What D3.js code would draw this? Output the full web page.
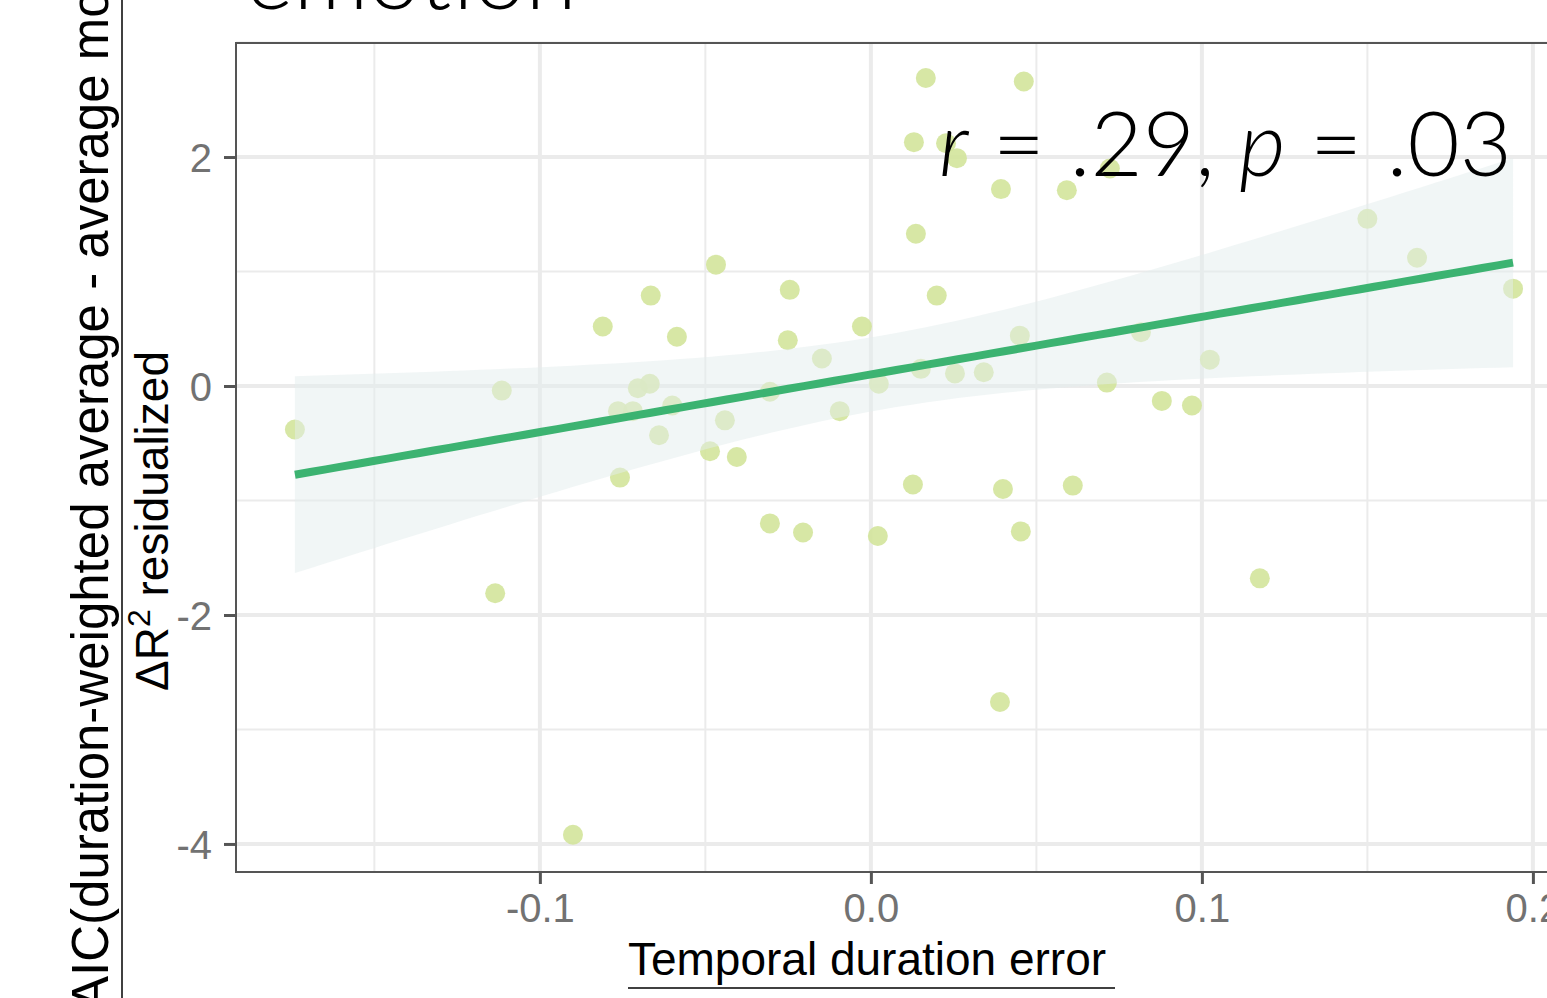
<!DOCTYPE html>
<html>
<head>
<meta charset="utf-8">
<script src="https://cdn.jsdelivr.net/npm/d3@7"></script>
<style>
  body { margin: 0; background: #fff; }
  svg { display: block; }
</style>
</head>
<body>
<svg id="chart"></svg>
<script>
// values
const durationError = [
  -0.174, -0.1135, -0.1115, -0.090, -0.081, -0.0764, -0.0758, -0.0719, -0.0704, -0.0668,
  -0.0665, -0.064, -0.060, -0.0586, -0.0486, -0.0468, -0.0441, -0.0405, -0.0305, -0.0305,
  -0.0251, -0.0245, -0.0205, -0.0148, -0.0094, -0.0027, 0.0021, 0.0024, 0.0127, 0.0130,
  0.0136, 0.0151, 0.0166, 0.0199, 0.0227, 0.0260, 0.0254, 0.0341, 0.0393, 0.0390,
  0.0399, 0.0450, 0.0453, 0.0462, 0.0592, 0.0610, 0.0713, 0.0722, 0.0816, 0.0879,
  0.0970, 0.1024, 0.1175, 0.1500, 0.1650, 0.1940
];
const deltaResid = [
  -0.38, -1.81, -0.04, -3.92, 0.52, -0.22, -0.80, -0.22, -0.02, 0.02,
  0.79, -0.43, -0.17, 0.43, -0.57, 1.06, -0.30, -0.62, -1.20, -0.05,
  0.40, 0.84, -1.28, 0.24, -0.22, 0.52, -1.31, 0.02, -0.86, 2.13,
  1.33, 0.15, 2.69, 0.79, 2.12, 1.99, 0.11, 0.12, 1.72, -2.76,
  -0.90, 0.44, -1.27, 2.66, 1.71, -0.87, 0.03, 1.90, 0.47, -0.13,
  -0.17, 0.23, -1.68, 1.46, 1.12, 0.85
];
const xMajor = [-0.1, 0.0, 0.1, 0.2];
const xMinor = [-0.15, -0.05, 0.05, 0.15];
const yMajor = [-4, -2, 0, 2];
const yMinor = [-3, -1, 1, 3];
const statsLabel = ['r', ' = .29, ', 'p', ' = .03'];

const width = 1547, height = 998;
const panel = { left: 236, top: 43, right: 1566, bottom: 872 };

const svg = d3.select('#chart').attr('width', width).attr('height', height);

const x = d3.scaleLinear().domain([-0.1918, 0.21]).range([panel.left, panel.right]);
const y = d3.scaleLinear().domain([-4.245, 2.996]).range([panel.bottom, panel.top]);

// lm fit with 95% band, like geom_smooth(method = 'lm')
const n = durationError.length;
const mx = d3.mean(durationError), my = d3.mean(deltaResid);
let sxx = 0, sxy = 0;
for (let i = 0; i < n; i++) {
  sxx += (durationError[i] - mx) ** 2;
  sxy += (durationError[i] - mx) * (deltaResid[i] - my);
}
const slope = sxy / sxx, intercept = my - slope * mx;
let sse = 0;
for (let i = 0; i < n; i++) sse += (deltaResid[i] - (intercept + slope * durationError[i])) ** 2;
const s = Math.sqrt(sse / (n - 2));
const tq = 2.004;
const [xmin, xmax] = d3.extent(durationError);
const fit = d3.range(80).map(i => {
  const xv = xmin + (xmax - xmin) * i / 79;
  const yv = intercept + slope * xv;
  const se = s * Math.sqrt(1 / n + (xv - mx) ** 2 / sxx);
  return { x: xv, y: yv, lo: yv - tq * se, hi: yv + tq * se };
});

// grid
const grid = svg.append('g');
grid.selectAll('.xmin').data(xMinor).enter().append('line')
  .attr('x1', d => x(d)).attr('x2', d => x(d)).attr('y1', panel.top).attr('y2', panel.bottom)
  .attr('stroke', '#ebebeb').attr('stroke-width', 2);
grid.selectAll('.ymin').data(yMinor).enter().append('line')
  .attr('y1', d => y(d)).attr('y2', d => y(d)).attr('x1', panel.left).attr('x2', panel.right)
  .attr('stroke', '#ebebeb').attr('stroke-width', 2);
grid.selectAll('.xmaj').data(xMajor).enter().append('line')
  .attr('x1', d => x(d)).attr('x2', d => x(d)).attr('y1', panel.top).attr('y2', panel.bottom)
  .attr('stroke', '#ebebeb').attr('stroke-width', 4);
grid.selectAll('.ymaj').data(yMajor).enter().append('line')
  .attr('y1', d => y(d)).attr('y2', d => y(d)).attr('x1', panel.left).attr('x2', panel.right)
  .attr('stroke', '#ebebeb').attr('stroke-width', 4);

// points
svg.append('g').selectAll('circle')
  .data(durationError.map((d, i) => [d, deltaResid[i]]))
  .enter().append('circle')
  .attr('cx', d => x(d[0])).attr('cy', d => y(d[1])).attr('r', 10)
  .attr('fill', '#d3e49b').attr('opacity', 0.9);

// ribbon + line
svg.append('path').datum(fit)
  .attr('d', d3.area().x(d => x(d.x)).y0(d => y(d.lo)).y1(d => y(d.hi)))
  .attr('fill', '#e4eeee').attr('opacity', 0.5);
svg.append('path').datum(fit)
  .attr('d', d3.line().x(d => x(d.x)).y(d => y(d.y)))
  .attr('fill', 'none').attr('stroke', '#3cb371').attr('stroke-width', 8);

// border
svg.append('rect')
  .attr('x', panel.left).attr('y', panel.top)
  .attr('width', panel.right - panel.left).attr('height', panel.bottom - panel.top)
  .attr('fill', 'none').attr('stroke', '#555').attr('stroke-width', 2);

// axes (ascii hyphen for negatives, like R)
const hyphen = f => d => f(d).replace('\u2212', '-');
const xAxis = svg.append('g')
  .attr('transform', `translate(0,${panel.bottom})`)
  .call(d3.axisBottom(x).tickValues(xMajor).tickSize(12).tickPadding(10).tickFormat(hyphen(d3.format('.1f'))));
const yAxis = svg.append('g')
  .attr('transform', `translate(${panel.left},0)`)
  .call(d3.axisLeft(y).tickValues(yMajor).tickSize(12).tickPadding(12).tickFormat(hyphen(d3.format('d'))));
[xAxis, yAxis].forEach(ax => {
  ax.select('.domain').remove();
  ax.selectAll('.tick line').attr('stroke', '#555').attr('stroke-width', 3);
  ax.selectAll('.tick text')
    .attr('fill', '#727272')
    .attr('font-family', 'Liberation Sans, Arial, sans-serif')
    .attr('font-size', 40);
});
yAxis.selectAll('.tick text').attr('dy', '0.36em');

// x title (fraction numerator + bar)
svg.append('text')
  .attr('x', 867).attr('y', 975)
  .attr('text-anchor', 'middle')
  .attr('font-family', 'Liberation Sans, Arial, sans-serif')
  .attr('font-size', 46)
  .text('Temporal duration error');
svg.append('line')
  .attr('x1', 628).attr('x2', 1115).attr('y1', 988).attr('y2', 988)
  .attr('stroke', '#000').attr('stroke-width', 1.5);

// y title (fraction)
svg.append('text')
  .attr('transform', 'translate(108,1044) rotate(-90)')
  .attr('font-family', 'Liberation Sans, Arial, sans-serif')
  .attr('font-size', 51)
  .text('ΔAIC(duration-weighted average - average model)');
svg.append('line')
  .attr('x1', 122).attr('x2', 122).attr('y1', -50).attr('y2', 1050)
  .attr('stroke', '#000').attr('stroke-width', 1.5);
const den = svg.append('text')
  .attr('transform', 'translate(168,521) rotate(-90)')
  .attr('text-anchor', 'middle')
  .attr('font-family', 'Liberation Sans, Arial, sans-serif')
  .attr('font-size', 46);
den.append('tspan').text('ΔR');
den.append('tspan').attr('font-size', 32).attr('dy', -18).text('2');
den.append('tspan').attr('dy', 18).text(' residualized');

// title
svg.append('text')
  .attr('x', 245).attr('y', 9)
  .attr('font-family', 'Lato, sans-serif')
  .attr('font-weight', 300)
  .attr('font-size', 93)
  .text('emotion');

// stats annotation
const ann = svg.append('text')
  .attr('x', 1512).attr('y', 176)
  .attr('text-anchor', 'end')
  .attr('font-family', 'Lato, sans-serif')
  .attr('font-weight', 300)
  .attr('font-size', 90);
ann.selectAll('tspan').data(statsLabel).enter().append('tspan')
  .attr('font-style', (d, i) => i % 2 === 0 ? 'italic' : 'normal')
  .attr('xml:space', 'preserve')
  .text(d => d);
</script>
</body>
</html>
